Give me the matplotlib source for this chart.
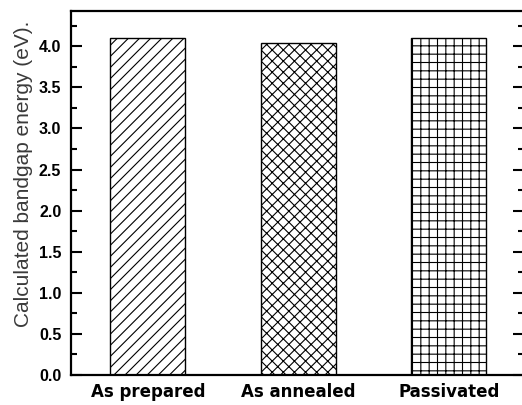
import numpy as np
import matplotlib
matplotlib.use("Agg")
import matplotlib.pyplot as plt
from matplotlib.ticker import MultipleLocator

samples = ["As prepared", "As annealed", "Passivated"]
bandgap = [4.10, 4.04, 4.10]
hatches = ["///", "xxx", "++"]

plt.rcParams['font.family'] = ['Liberation Sans', 'DejaVu Sans']
plt.rcParams['hatch.linewidth'] = 0.8

fig = plt.figure(figsize=(5.22, 4.05), dpi=100)
ax = fig.add_axes([0.136, 0.074, 0.868, 0.899])

x = np.arange(len(samples))
for xi, val, h in zip(x, bandgap, hatches):
    ax.bar(xi, val, width=0.5, facecolor='white', edgecolor='black',
           hatch=h, linewidth=1.0)

ax.set_xlim(-0.51, 2.5)
ax.set_ylim(0, 4.43)
ax.yaxis.set_major_locator(MultipleLocator(0.5))
ax.yaxis.set_minor_locator(MultipleLocator(0.25))
ax.set_xticks(x)
ax.set_xticklabels(samples, fontsize=12, fontweight='bold',
                   family=['DejaVu Sans'])
ax.tick_params(axis='x', length=0, pad=6)
ax.tick_params(axis='y', which='major', direction='in', length=8, width=1.5,
               right=True, labelsize=11.5, pad=7)
ax.tick_params(axis='y', which='minor', direction='in', length=4, width=1.5,
               right=True)
for lbl in ax.get_yticklabels():
    lbl.set_fontweight('bold')
ax.yaxis.set_major_formatter(plt.FormatStrFormatter('%.1f'))

for sp in ax.spines.values():
    sp.set_linewidth(1.6)

ax.set_ylabel("Calculated bandgap energy (eV).", fontsize=15, color='#3a3a3a')
ax.yaxis.set_label_coords(-0.083, 0.552)

fig.savefig("out.png", dpi=100)
